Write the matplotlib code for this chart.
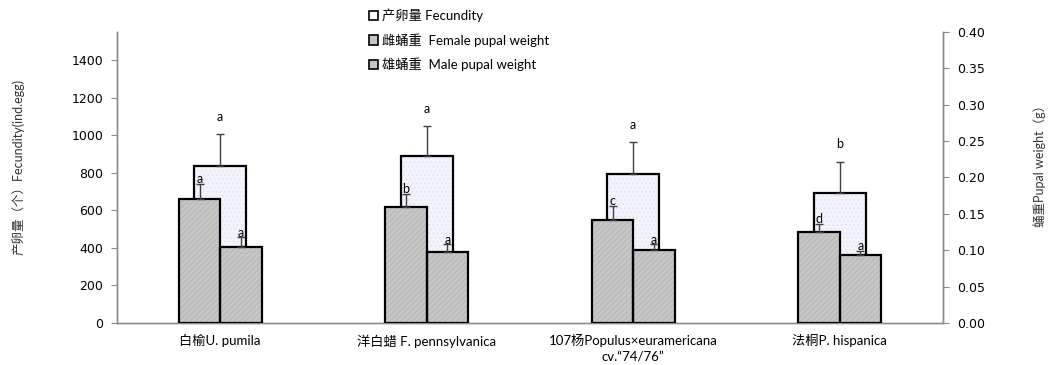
import numpy as np
import matplotlib
matplotlib.use('Agg')
from matplotlib import pyplot as plt
from matplotlib.patches import Patch

plt.rcParams['font.family'] = ['Lato', 'Noto Sans CJK SC', 'DejaVu Sans']
plt.rcParams['hatch.linewidth'] = 0.6

# data
categories = ['白榆U. pumila', '洋白蜡 F. pennsylvanica',
              '107杨Populus×euramericana\ncv.“74/76”', '法桐P. hispanica']
fecundity = [837, 889, 792, 691]
fecundity_err = [170, 160, 174, 169]
female_weight = [0.170, 0.159, 0.141, 0.125]
female_err = [0.021, 0.019, 0.020, 0.011]
male_weight = [0.104, 0.098, 0.101, 0.094]
male_err = [0.014, 0.010, 0.007, 0.005]
fec_letters = ['a', 'a', 'a', 'b']
female_letters = ['a', 'b', 'c', 'd']
male_letters = ['a', 'a', 'a', 'a']
legend_labels = ['产卵量 Fecundity', '雌蛹重  Female pupal weight', '雄蛹重  Male pupal weight']

axis_gray = '#8c8c8c'
bar_gray = '#c6c6c6'

fig = plt.figure(figsize=(10.48, 3.65), dpi=100)
ax = fig.add_axes([0.1116, 0.1151, 0.7882, 0.7972])
ax2 = ax.twinx()

x = np.arange(len(categories))

# fecundity (left axis)
ax.bar(x, fecundity, width=0.25, color='#f3f3fc', hatch='....',
       edgecolor='#e2e2f4', linewidth=0, zorder=2)
ax.bar(x, fecundity, width=0.25, fill=False, edgecolor='black', linewidth=1.6, zorder=3)
ax.errorbar(x, fecundity, yerr=[np.zeros(len(x)), fecundity_err], fmt='none',
            ecolor='#404040', elinewidth=1, capsize=3, capthick=1, zorder=3)
for xi, v, e, t in zip(x, fecundity, fecundity_err, fec_letters):
    ax.annotate(t, (xi, v + e), xytext=(0, 8), textcoords='offset points',
                ha='center', va='bottom', fontsize=9)

ax.set_xlim(-0.5, len(x) - 0.5)
ax.set_ylim(0, 1550)
ax.set_yticks(np.arange(0, 1401, 200))
ax.set_xticks(x)
ax.set_xticklabels(categories, fontsize=9.5, linespacing=1.3)
ax.tick_params(axis='x', length=0, pad=8)
ax.tick_params(axis='y', labelsize=9, length=4, color=axis_gray, pad=6)
for lab in ax.get_yticklabels():
    lab.set_family('DejaVu Sans')

# pupal weights (right axis)
bw = 0.2
ax2.bar(x - bw / 2, female_weight, width=bw, color=bar_gray,
        hatch='//////', edgecolor='#b4b4b4', linewidth=0, zorder=2)
ax2.bar(x - bw / 2, female_weight, width=bw, fill=False, edgecolor='black',
        linewidth=1.6, zorder=3)
ax2.bar(x + bw / 2, male_weight, width=bw, color=bar_gray,
        hatch='//////', edgecolor='#b4b4b4', linewidth=0, zorder=2)
ax2.bar(x + bw / 2, male_weight, width=bw, fill=False, edgecolor='black',
        linewidth=1.6, zorder=3)
ax2.errorbar(x - bw / 2, female_weight, yerr=[np.zeros(len(x)), female_err], fmt='none',
             ecolor='#404040', elinewidth=1, capsize=3, capthick=1, zorder=3)
ax2.errorbar(x + bw / 2, male_weight, yerr=[np.zeros(len(x)), male_err], fmt='none',
             ecolor='#404040', elinewidth=1, capsize=3, capthick=1, zorder=3)
for xi, v, e, t in zip(x, female_weight, female_err, female_letters):
    ax2.annotate(t, (xi - bw / 2, v + e), xytext=(0, -1), textcoords='offset points',
                 ha='center', va='bottom', fontsize=9)
for xi, v, e, t in zip(x, male_weight, male_err, male_letters):
    ax2.annotate(t, (xi + bw / 2, v + e), xytext=(0, -1), textcoords='offset points',
                 ha='center', va='bottom', fontsize=9)

ax2.set_ylim(0, 0.40)
ax2.set_yticks(np.arange(0, 0.401, 0.05))
ax2.set_yticklabels(['%.2f' % v for v in np.arange(0, 0.401, 0.05)])
ax2.tick_params(axis='y', labelsize=9, length=4, color=axis_gray, pad=6)
for lab in ax2.get_yticklabels():
    lab.set_family('DejaVu Sans')

for a in (ax, ax2):
    a.spines['top'].set_visible(False)
    for s in ('left', 'right', 'bottom'):
        a.spines[s].set_color(axis_gray)
        a.spines[s].set_linewidth(1)

fig.text(0.017, 0.542, '产卵量（个）Fecundity(ind.egg)', rotation=90, ha='center',
         va='center', fontsize=9, color='#333333')
fig.text(0.992, 0.553, '蛹重Pupal weight（g）', rotation=90, ha='center',
         va='center', fontsize=9, color='#333333')

handles = [Patch(facecolor='white', edgecolor='black', linewidth=1.2),
           Patch(facecolor=bar_gray, edgecolor='black', linewidth=1.2),
           Patch(facecolor=bar_gray, edgecolor='black', linewidth=1.2)]
fig.legend(handles, legend_labels,
           loc='upper left', bbox_to_anchor=(0.341, 1.01), frameon=False, fontsize=9.5,
           handlelength=0.7, handleheight=0.7, handletextpad=0.3, labelspacing=0.85)

plt.savefig('out.png', dpi=100)
